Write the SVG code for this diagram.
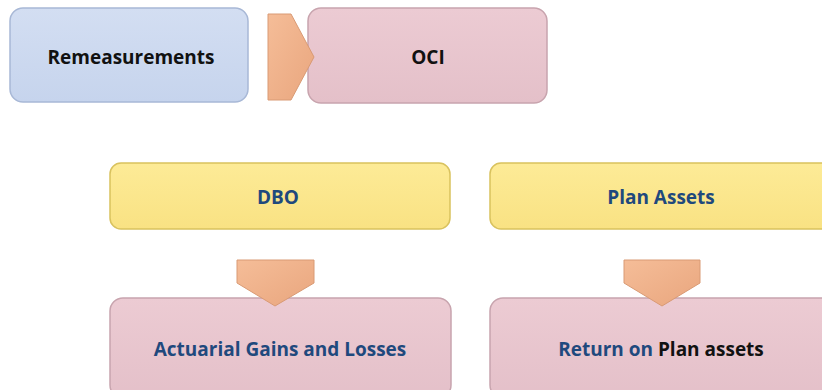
<svg xmlns="http://www.w3.org/2000/svg" width="822" height="390" viewBox="0 0 822 390">
<defs>
<linearGradient id="gBlue" x1="0" y1="0" x2="0" y2="1"><stop offset="0" stop-color="#d3def2"/><stop offset="1" stop-color="#c6d4ed"/></linearGradient>
<linearGradient id="gPink" x1="0" y1="0" x2="0" y2="1"><stop offset="0" stop-color="#eccbd3"/><stop offset="1" stop-color="#e4c0c9"/></linearGradient>
<linearGradient id="gYel" x1="0" y1="0" x2="0" y2="1"><stop offset="0" stop-color="#fdeb97"/><stop offset="1" stop-color="#f9e283"/></linearGradient>
<linearGradient id="gArr" x1="0" y1="0" x2="1" y2="1"><stop offset="0" stop-color="#f5bd98"/><stop offset="1" stop-color="#e9a67e"/></linearGradient>
<style>
.t{font-family:"Open Sans","Liberation Sans",sans-serif;font-weight:bold;font-size:19px;text-anchor:middle}
.blk{fill:#111}
.blu{fill:#1f497d}
.blue{fill:url(#gBlue);stroke:#a8b8d6;stroke-width:1.5}
.pink{fill:url(#gPink);stroke:#c8a4ae;stroke-width:1.5}
.yel{fill:url(#gYel);stroke:#d9c25e;stroke-width:1.5}
.arr{fill:url(#gArr);stroke:#d99a74;stroke-width:1}
</style>
</defs>
<g id="remeasurements">
<rect class="blue" x="10" y="8" width="238" height="94" rx="13"/>
<text class="t blk" x="131" y="64">Remeasurements</text>
</g>
<g id="oci">
<rect class="pink" x="308" y="8" width="239" height="95" rx="13"/>
<text class="t blk" x="428" y="64">OCI</text>
</g>
<g id="dbo">
<rect class="yel" x="110" y="163" width="340" height="66" rx="11"/>
<text class="t blu" x="278" y="204">DBO</text>
</g>
<g id="plan-assets">
<rect class="yel" x="490" y="163" width="345" height="66" rx="11"/>
<text class="t blu" x="661" y="204">Plan Assets</text>
</g>
<g id="actuarial">
<rect class="pink" x="110" y="298" width="341" height="100" rx="13"/>
<text class="t blu" x="280" y="356">Actuarial Gains and Losses</text>
</g>
<g id="return">
<rect class="pink" x="490" y="298" width="345" height="100" rx="13"/>
<text class="t" x="661" y="356"><tspan class="blu">Return on </tspan><tspan class="blk">Plan assets</tspan></text>
</g>
<g id="connectors">
<path class="arr" d="M268,14 H291 L314,57 L291,100 H268 Z"/>
<path class="arr" d="M237,260 H314 V283 L275,306 L237,283 Z"/>
<path class="arr" d="M624,260 H700 V283 L662,306 L624,283 Z"/>
</g>
</svg>
